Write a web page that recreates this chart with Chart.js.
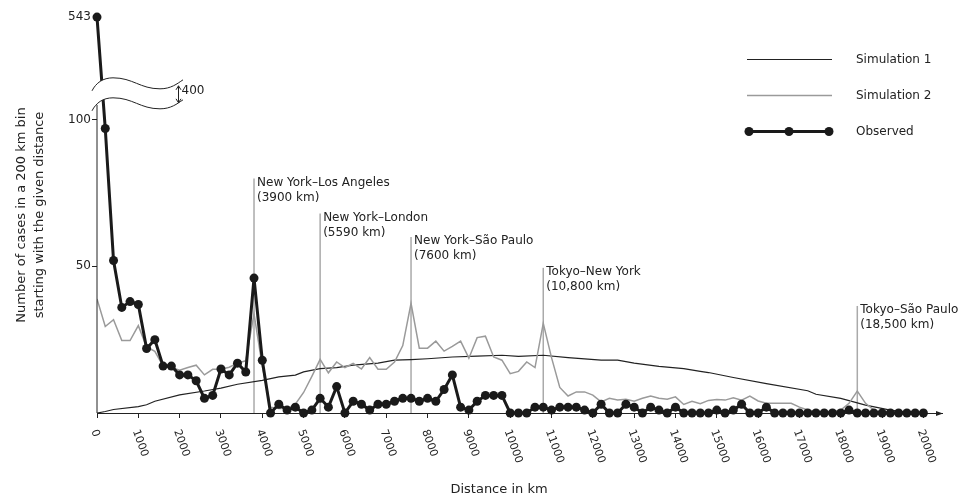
<!DOCTYPE html>
<html>
<head>
<meta charset="utf-8">
<title>Distance distribution</title>
<script src="https://cdn.jsdelivr.net/npm/chart.js@4.4.1/dist/chart.umd.min.js"></script>
<style>
    html, body { margin: 0; padding: 0; background: #fff; }
    #wrap { width: 959px; height: 500px; }
</style>
</head>
<body>
<div id="wrap"><canvas id="distance-chart" width="959" height="500"></canvas></div>
<script>
// 200 km bins, value is the start of the bin
const binStartKm = [
    0, 200, 400, 600, 800, 1000, 1200, 1400, 1600, 1800,
    2000, 2200, 2400, 2600, 2800, 3000, 3200, 3400, 3600, 3800,
    4000, 4200, 4400, 4600, 4800, 5000, 5200, 5400, 5600, 5800,
    6000, 6200, 6400, 6600, 6800, 7000, 7200, 7400, 7600, 7800,
    8000, 8200, 8400, 8600, 8800, 9000, 9200, 9400, 9600, 9800,
    10000, 10200, 10400, 10600, 10800, 11000, 11200, 11400, 11600, 11800,
    12000, 12200, 12400, 12600, 12800, 13000, 13200, 13400, 13600, 13800,
    14000, 14200, 14400, 14600, 14800, 15000, 15200, 15400, 15600, 15800,
    16000, 16200, 16400, 16600, 16800, 17000, 17200, 17400, 17600, 17800,
    18000, 18200, 18400, 18600, 18800, 19000, 19200, 19400, 19600, 19800,
    20000
]

const observedCases = [
    543, 97, 52, 36, 38, 37, 22, 25, 16, 16,
    13, 13, 11, 5, 6, 15, 13, 17, 14, 46,
    18, 0, 3, 1, 2, 0, 1, 5, 2, 9,
    0, 4, 3, 1, 3, 3, 4, 5, 5, 4,
    5, 4, 8, 13, 2, 1, 4, 6, 6, 6,
    0, 0, 0, 2, 2, 1, 2, 2, 2, 1,
    0, 3, 0, 0, 3, 2, 0, 2, 1, 0,
    2, 0, 0, 0, 0, 1, 0, 1, 3, 0,
    0, 2, 0, 0, 0, 0, 0, 0, 0, 0,
    0, 1, 0, 0, 0, 0, 0, 0, 0, 0,
    0
]

// simulation 2 runs on the same bins, up to 19000 km
const sim2Cases = [
    38.9, 29.5, 31.8, 24.7, 24.7, 29.8, 22.5, 21, 16, 15.5,
    14.6, 15.5, 16.3, 13, 14.9, 14.9, 15.6, 17, 17.8, 33.8,
    16, 2, 1.5, 1.5, 3, 7, 12.5, 18.3, 13.7, 17.4,
    15.5, 16.9, 15, 18.9, 14.9, 14.9, 17.4, 23, 37.4, 22.1,
    22.1, 24.5, 21.1, 22.7, 24.5, 18.7, 25.7, 26.2, 19.1, 18,
    13.4, 14.2, 17.4, 15.5, 30.6, 18.9, 8.7, 5.8, 7.2, 7.2,
    6.1, 3.8, 5, 4.4, 4.7, 4, 5, 5.8, 5, 4.7,
    5.5, 2.9, 4, 3.2, 4.3, 4.6, 4.4, 5.2, 4.4, 5.8,
    4.1, 3.3, 3.3, 3.3, 3.3, 2, 1, 0.5, 0.5, 0.5,
    1, 3.3, 7.5, 3.3, 1, 0
]

// simulation 1 is smooth, read at fewer points
const sim1Km = [0, 200, 400, 1000, 1200, 1400, 2000, 2600, 3000, 3400, 4000, 4400, 4800, 5000, 5400,
    5800, 6200, 6800, 7200, 7600, 8000, 8600, 9200, 9800, 10200, 10800, 11400, 12200, 12600, 13000,
    13600, 14200, 14600, 14800, 15400, 16200, 17200, 17400, 18000, 18600, 19200, 19600, 20000]
const sim1Cases = [0, 0.5, 1.2, 2.2, 2.8, 4, 6.2, 7.5, 8.5, 9.8, 11.1, 12.3, 12.9, 14, 15.1,
    15.5, 16.3, 17, 18, 18.2, 18.5, 19.1, 19.4, 19.7, 19.3, 19.7, 18.9, 18, 18, 17,
    15.9, 15.1, 14.2, 13.8, 12.1, 10, 7.6, 6.4, 5, 2.7, 1, 0.2, 0]

const xTickKm = [0, 1000, 2000, 3000, 4000, 5000, 6000, 7000, 8000, 9000, 10000,
    11000, 12000, 13000, 14000, 15000, 16000, 17000, 18000, 19000, 20000]
const yTickCases = [50, 100, 543]

const routeKm = [3800, 5400, 7600, 10800, 18400]
const routeTop = [80, 68, 60, 49.5, 36.5]
const routeName = ["New York–Los Angeles", "New York–London", "New York–São Paulo", "Tokyo–New York", "Tokyo–São Paulo"]
const routeDist = ["(3900 km)", "(5590 km)", "(7600 km)", "(10,800 km)", "(18,500 km)"]

const legendLabels = ["Simulation 1", "Simulation 2", "Observed"]

// the y axis is broken above 100, anything higher is drawn BREAK_SHIFT lower
const BREAK_SHIFT = 408
const BREAK_AT = 108.5
const plotted = v => v > 100 ? v - BREAK_SHIFT : v

const ink = "#222"
const obsColor = "#1a1a1a"
const sim1Color = "#222"
const sim2Color = "#9a9a9a"

Chart.defaults.font.family = "'DejaVu Sans'"
Chart.defaults.color = ink

function points(km, vals) {
    return vals.map((v, i) => ({x: km[i], y: plotted(v)}))
}

function noPadding(s) {
    s.paddingTop = 0
    s.paddingBottom = 0
    s.paddingLeft = 0
    s.paddingRight = 0
}

const decorations = {
    id: "decorations",
    beforeDatasetsDraw(chart) {
        // route marker lines with their labels
        const {ctx, scales: {x, y}} = chart
        ctx.save()
        ctx.strokeStyle = "#aaa"
        ctx.lineWidth = 1.5
        ctx.fillStyle = ink
        ctx.font = "12px 'DejaVu Sans'"
        ctx.textAlign = "left"
        ctx.textBaseline = "middle"
        routeKm.forEach((km, i) => {
            const px = x.getPixelForValue(km)
            const top = y.getPixelForValue(routeTop[i])
            ctx.beginPath()
            ctx.moveTo(px, y.getPixelForValue(0))
            ctx.lineTo(px, top)
            ctx.stroke()
            ctx.fillText(routeName[i], px + 3, top + 4)
            ctx.fillText(routeDist[i], px + 3, top + 19)
        })
        ctx.restore()
    },
    afterDatasetsDraw(chart) {
        const {ctx, scales: {x, y}} = chart
        const ax = x.getPixelForValue(0)
        const my = y.getPixelForValue(BREAK_AT)
        ctx.save()

        // y axis line up to the break
        ctx.strokeStyle = ink
        ctx.lineWidth = 1
        ctx.beginPath()
        ctx.moveTo(ax, y.getPixelForValue(0))
        ctx.lineTo(ax, my + 10)
        ctx.stroke()

        // wavy break: start point then (c1, c2, end) triples
        const up = [[-5, -4], [-1, -12], [6, -17], [16, -17], [36, -17], [43, -6], [63, -6], [74, -6], [80, -11], [86, -15]]
        const gap = 20
        const P = (p, dy) => [ax + p[0], my + p[1] + dy]
        ctx.beginPath()
        ctx.moveTo(...P(up[0], 0))
        for (let k = 1; k < up.length; k += 3)
            ctx.bezierCurveTo(...P(up[k], 0), ...P(up[k + 1], 0), ...P(up[k + 2], 0))
        ctx.lineTo(...P(up[9], gap))
        for (let k = 8; k >= 2; k -= 3)
            ctx.bezierCurveTo(...P(up[k], gap), ...P(up[k - 1], gap), ...P(up[k - 2], gap))
        ctx.closePath()
        ctx.fillStyle = "#fff"
        ctx.fill()

        ctx.strokeStyle = ink
        ctx.lineWidth = 1
        for (const dy of [0, gap]) {
            ctx.beginPath()
            ctx.moveTo(...P(up[0], dy))
            for (let k = 1; k < up.length; k += 3)
                ctx.bezierCurveTo(...P(up[k], dy), ...P(up[k + 1], dy), ...P(up[k + 2], dy))
            ctx.stroke()
        }

        // double arrow with the size of the gap
        const arX = ax + 81.5
        const t = my - 9, b = my + 8
        ctx.beginPath()
        ctx.moveTo(arX, t); ctx.lineTo(arX, b)
        ctx.moveTo(arX - 2.5, t + 4); ctx.lineTo(arX, t); ctx.lineTo(arX + 2.5, t + 4)
        ctx.moveTo(arX - 2.5, b - 4); ctx.lineTo(arX, b); ctx.lineTo(arX + 2.5, b - 4)
        ctx.stroke()
        ctx.fillStyle = ink
        ctx.font = "12px 'DejaVu Sans'"
        ctx.textAlign = "left"
        ctx.textBaseline = "middle"
        ctx.fillText("400", arX + 3, my - 3.5)
        ctx.restore()
    },
    afterDraw(chart) {
        const {ctx, scales: {x, y}} = chart
        ctx.save()
        ctx.fillStyle = ink

        // arrow head on the x axis
        const yb = y.getPixelForValue(0) + 0.5
        ctx.beginPath()
        ctx.moveTo(x.right + 1, yb)
        ctx.lineTo(x.right - 6, yb - 2.5)
        ctx.lineTo(x.right - 6, yb + 2.5)
        ctx.closePath()
        ctx.fill()

        // x tick labels turned clockwise
        ctx.font = "11px 'DejaVu Sans'"
        ctx.textAlign = "left"
        ctx.textBaseline = "middle"
        xTickKm.forEach(km => {
            ctx.save()
            ctx.translate(x.getPixelForValue(km) - 3, y.bottom + 17)
            ctx.rotate(70 * Math.PI / 180)
            ctx.fillText(String(km), 0, 0)
            ctx.restore()
        })

        // axis titles
        ctx.font = "13px 'DejaVu Sans'"
        ctx.textAlign = "center"
        ctx.fillText("Distance in km", 499, 490)
        ctx.save()
        ctx.translate(31, 215)
        ctx.rotate(-Math.PI / 2)
        ctx.fillText("Number of cases in a 200 km bin", 0, -9)
        ctx.fillText("starting with the given distance", 0, 9)
        ctx.restore()

        // legend
        const rows = [59.5, 95.5, 131.5]
        const x0 = 747, x1 = 832
        ctx.lineWidth = 1.2
        ctx.strokeStyle = sim1Color
        ctx.beginPath(); ctx.moveTo(x0, rows[0]); ctx.lineTo(x1, rows[0]); ctx.stroke()
        ctx.lineWidth = 1.5
        ctx.strokeStyle = sim2Color
        ctx.beginPath(); ctx.moveTo(x0, rows[1]); ctx.lineTo(x1, rows[1]); ctx.stroke()
        ctx.lineWidth = 3
        ctx.strokeStyle = obsColor
        ctx.beginPath(); ctx.moveTo(x0 + 2, rows[2]); ctx.lineTo(x1 - 3, rows[2]); ctx.stroke()
        ctx.fillStyle = obsColor
        for (const dx of [749, 789, 829]) {
            ctx.beginPath(); ctx.arc(dx, rows[2], 4.5, 0, Math.PI * 2); ctx.fill()
        }
        ctx.fillStyle = ink
        ctx.font = "12px 'DejaVu Sans'"
        ctx.textAlign = "left"
        legendLabels.forEach((lbl, i) => ctx.fillText(lbl, 856, rows[i]))
        ctx.restore()
    }
}

const chart = new Chart(document.getElementById("distance-chart"), {
    type: "line",
    data: {
        datasets: [
            {
                label: "Observed",
                data: points(binStartKm, observedCases),
                borderColor: obsColor,
                backgroundColor: obsColor,
                pointBackgroundColor: obsColor,
                borderWidth: 3,
                pointRadius: 4.5,
                pointBorderWidth: 0,
                clip: false
            },
            {
                label: "Simulation 2",
                data: points(binStartKm, sim2Cases),
                borderColor: sim2Color,
                borderWidth: 1.5,
                pointRadius: 0
            },
            {
                label: "Simulation 1",
                data: points(sim1Km, sim1Cases),
                borderColor: sim1Color,
                borderWidth: 1.2,
                pointRadius: 0
            }
        ]
    },
    options: {
        responsive: false,
        animation: false,
        events: [],
        layout: {padding: {left: 0, top: 2, right: 17, bottom: 0}},
        plugins: {
            legend: {display: false},
            tooltip: {enabled: false}
        },
        scales: {
            x: {
                type: "linear",
                min: 0,
                max: 20450,
                ticks: {display: false},
                afterBuildTicks: s => { s.ticks = xTickKm.map(v => ({value: v})) },
                afterFit: s => { s.height = 87; noPadding(s) },
                grid: {drawOnChartArea: false, drawTicks: true, tickLength: 5, color: ink, lineWidth: 1},
                border: {display: true, color: ink, width: 1}
            },
            y: {
                min: 0,
                max: 139.3,
                afterBuildTicks: s => { s.ticks = yTickCases.map(v => ({value: plotted(v)})) },
                afterFit: s => { s.width = 97; noPadding(s) },
                ticks: {
                    color: ink,
                    font: {size: 12},
                    padding: 1,
                    callback: v => v > 100 ? v + BREAK_SHIFT : v
                },
                grid: {
                    drawOnChartArea: false,
                    tickLength: 5,
                    color: ink,
                    tickColor: c => (c.tick && c.tick.value > 100) ? "rgba(0,0,0,0)" : ink
                },
                border: {display: false}
            }
        }
    },
    plugins: [decorations]
})
</script>
</body>
</html>
